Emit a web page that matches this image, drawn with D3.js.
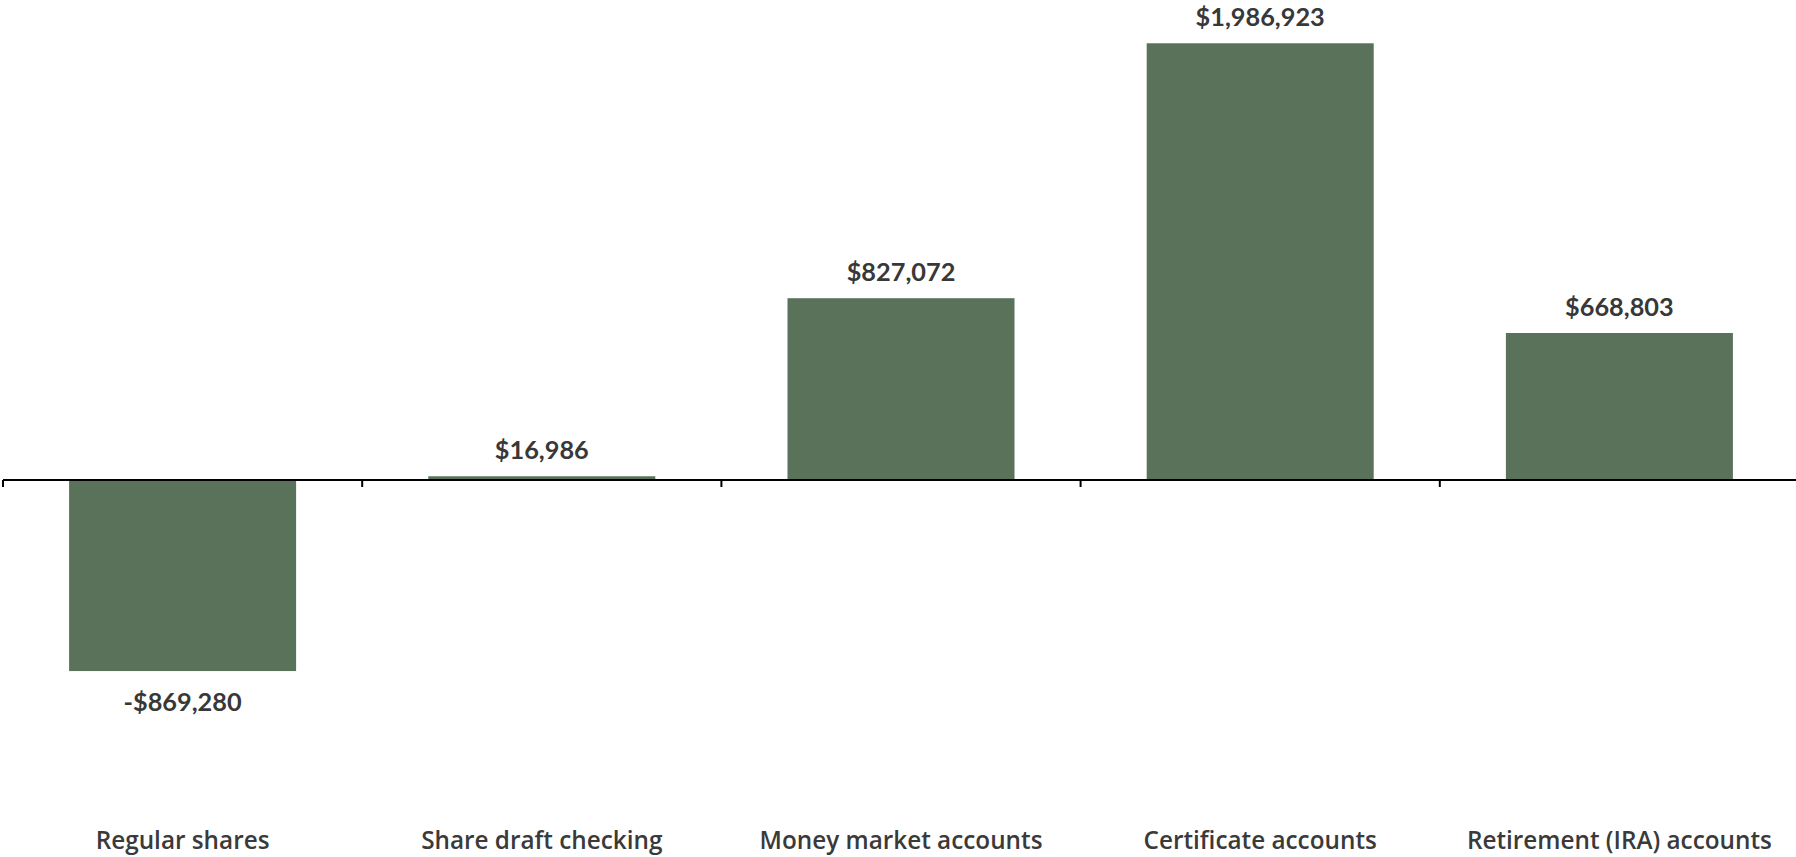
<!DOCTYPE html>
<html>
<head>
<meta charset="utf-8">
<script src="https://cdn.jsdelivr.net/npm/d3@7"></script>
<style>
  body { margin: 0; background: #fff; }
  .value-label { font-family: Lato, "Open Sans", sans-serif; font-weight: 700; font-size: 25.3px; fill: #383838; }
  .cat-label { font-family: "Open Sans", sans-serif; font-weight: 600; font-size: 24.3px; fill: #3a3a3a; }
</style>
</head>
<body>
<div class="chart"></div>
<script>
var svgWidth = 1796;
var svgHeight = 857;

// chart data
var categories = ["Regular shares", "Share draft checking", "Money market accounts", "Certificate accounts", "Retirement (IRA) accounts"];
var values = [-869280, 16986, 827072, 1986923, 668803];
var valueLabels = ["-$869,280", "$16,986", "$827,072", "$1,986,923", "$668,803"];

var data = categories.map(function(c, i) {
  return { name: c, value: values[i], label: valueLabels[i] };
});

var svg = d3.select(".chart")
  .append("svg")
  .attr("width", svgWidth)
  .attr("height", svgHeight);

var pad = 0.368;

var xScale = d3.scaleBand()
  .domain(categories)
  .range([3, 1799])
  .paddingInner(pad)
  .paddingOuter(pad / 2);

// zero sits at y = 480
var yScale = d3.scaleLinear()
  .domain([-1500000, 2000000])
  .range([480 + 1.5 * 219.8, 480 - 2 * 219.8]);

// bars
svg.selectAll("rect.bar")
  .data(data)
  .enter()
  .append("rect")
  .attr("class", "bar")
  .attr("x", d => xScale(d.name))
  .attr("width", xScale.bandwidth())
  .attr("y", d => yScale(Math.max(0, d.value)))
  .attr("height", d => Math.abs(yScale(d.value) - yScale(0)))
  .attr("fill", "#5a7259");

// axis line with ticks at band boundaries
var step = xScale.step();
var boundaries = categories.map(c => xScale(c) - step * pad / 2);

svg.append("line")
  .attr("x1", boundaries[0])
  .attr("x2", svgWidth)
  .attr("y1", yScale(0))
  .attr("y2", yScale(0))
  .attr("stroke", "#000")
  .attr("stroke-width", 2);

svg.selectAll("line.tick")
  .data(boundaries)
  .enter()
  .append("line")
  .attr("class", "tick")
  .attr("x1", d => d)
  .attr("x2", d => d)
  .attr("y1", yScale(0))
  .attr("y2", yScale(0) + 7)
  .attr("stroke", "#000")
  .attr("stroke-width", 2);

// value labels
svg.selectAll("text.value-label")
  .data(data)
  .enter()
  .append("text")
  .attr("class", "value-label")
  .attr("text-anchor", "middle")
  .attr("x", d => xScale(d.name) + xScale.bandwidth() / 2)
  .attr("y", d => d.value >= 0 ? yScale(d.value) - 17 : yScale(d.value) + 40)
  .text(d => d.label);

// category labels
svg.selectAll("text.cat-label")
  .data(data)
  .enter()
  .append("text")
  .attr("class", "cat-label")
  .attr("text-anchor", "middle")
  .attr("x", d => xScale(d.name) + xScale.bandwidth() / 2)
  .attr("y", 849)
  .text(d => d.name);
</script>
</body>
</html>
